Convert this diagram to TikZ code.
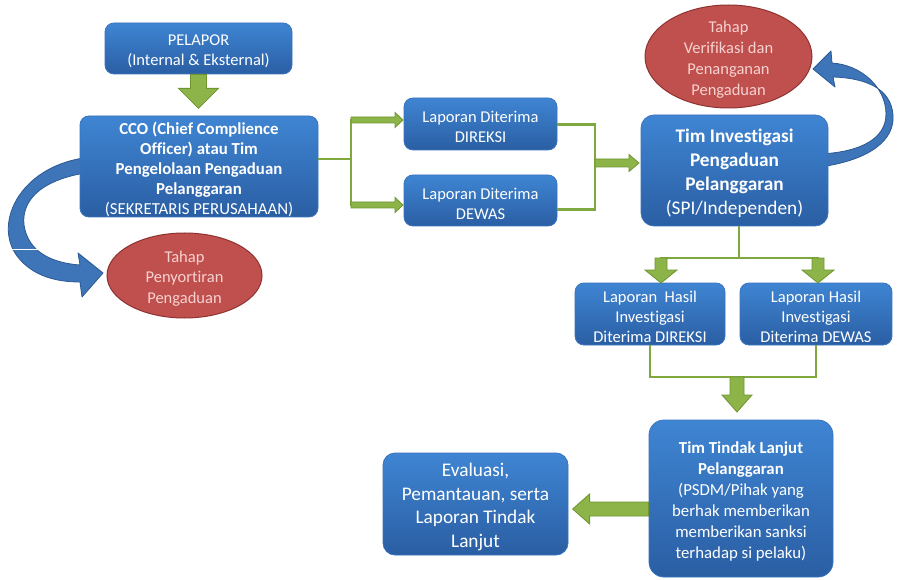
\documentclass[tikz,border=0pt]{standalone}
\usepackage{fontspec}
\setmainfont{Carlito}[Ligatures=CommonOff]
\usetikzlibrary{arrows.meta,calc,shapes.geometric}
\definecolor{bluetop}{HTML}{3F85D3}
\definecolor{bluebot}{HTML}{2A5EA3}
\definecolor{blueedge}{HTML}{3A74BE}
\definecolor{curvefill}{HTML}{3E74B8}
\definecolor{curveedge}{HTML}{2C5A94}
\definecolor{redfill}{HTML}{C0504D}
\definecolor{rededge}{HTML}{8E3331}
\definecolor{redtext}{HTML}{F6D2D1}
\definecolor{gfill}{HTML}{8DB448}
\definecolor{gedge}{HTML}{6F9530}
\definecolor{gline}{HTML}{7FA83E}
\newcommand{\blockarrow}[6]{%
  \draw[garrow, shift={(#1)}, rotate=#2] (0,-#4) -- ({#3-#6},-#4) -- ({#3-#6},-#5) -- (#3,0) -- ({#3-#6},#5) -- ({#3-#6},#4) -- (0,#4) -- cycle;}
\tikzset{
  bbox/.style={rectangle, rounded corners=9pt, top color=bluetop, bottom color=bluebot,
    draw=blueedge, line width=0.8pt, inner sep=0pt},
  rell/.style={ellipse, fill=redfill, draw=rededge, line width=1pt, inner sep=0pt},
  wtxt/.style={text=white, align=center, inner sep=0pt, yshift=-3pt},
  rtxt/.style={text=redtext, align=center, inner sep=0pt, yshift=-3pt},
  garrow/.style={fill=gfill, draw=gedge, line width=0.8pt, line join=miter},
  glinestyle/.style={draw=gline, line width=2.6pt},
  curvearrow/.style={fill=curvefill, draw=curveedge, line width=0.8pt, line join=round},
}
\begin{document}
\begin{tikzpicture}[x=1pt,y=-1pt]
\useasboundingbox (0,0) rectangle (902,580);
\fill[white] (0,0) rectangle (902,580);

% curved blue arrows (drawn first, behind boxes)
\draw[curvearrow] (92,157) .. controls (22,163) and (-8,222) .. (17,256)
  .. controls (33,277) and (58,282) .. (80,282) -- (82,297) -- (103,273) -- (78,253) -- (80,265)
  .. controls (52,263) and (28,252) .. (24,225) .. controls (21,198) and (45,178) .. (92,172) -- cycle;
\draw[curvearrow] (820,167) .. controls (870,160) and (895,140) .. (893,115)
  .. controls (891,88) and (865,78) .. (833,77) -- (835,87) -- (813,69) -- (831,51) -- (832,63)
  .. controls (862,65) and (886,88) .. (886,114) .. controls (886,138) and (862,152) .. (820,154) -- cycle;
\draw[white, line width=0.6pt] (8,249) -- (247,249);

% nodes
\node[bbox, minimum width=187pt, minimum height=51pt,
  label={[wtxt, font=\fontsize{16.5}{20}\selectfont]center:{PELAPOR\\(Internal \& Eksternal)}}] (pel) at (198.5,48.5) {};
\node[bbox, minimum width=238pt, minimum height=101pt,
  label={[wtxt, font=\fontsize{16.8}{20}\selectfont]center:{\bfseries CCO (Chief Complience\\\bfseries Officer) atau Tim\\\bfseries Pengelolaan Pengaduan\\\bfseries Pelanggaran\\(SEKRETARIS PERUSAHAAN)}}] (cco) at (199,166.5) {};
\node[bbox, minimum width=153pt, minimum height=52pt,
  label={[wtxt, font=\fontsize{16.5}{20}\selectfont]center:{Laporan Diterima\\DIREKSI}}] (dir) at (480.5,124) {};
\node[bbox, minimum width=153pt, minimum height=51pt,
  label={[wtxt, font=\fontsize{16.5}{20}\selectfont]center:{Laporan Diterima\\DEWAS}}] (dew) at (480.5,200.5) {};
\node[bbox, rounded corners=13pt, minimum width=187pt, minimum height=111pt,
  label={[wtxt, font=\fontsize{19.3}{24}\selectfont]center:{\bfseries Tim Investigasi\\\bfseries Pengaduan\\\bfseries Pelanggaran\\(SPI/Independen)}}] (tim) at (734.5,170.5) {};
\node[rell, minimum width=167pt, minimum height=103pt,
  label={[rtxt, font=\fontsize{16.5}{21}\selectfont]center:{Tahap\\Verifikasi dan\\Penanganan\\Pengaduan}}] (ver) at (728.5,56.5) {};
\node[rell, minimum width=155pt, minimum height=85pt,
  label={[rtxt, font=\fontsize{16.5}{20.5}\selectfont]center:{Tahap\\Penyortiran\\Pengaduan}}] (sor) at (184.5,275.5) {};
\node[bbox, minimum width=150pt, minimum height=62pt,
  label={[wtxt, font=\fontsize{16.5}{20}\selectfont]center:{Laporan\ \ Hasil\\Investigasi\\Diterima DIREKSI}}] (hd) at (650,314) {};
\node[bbox, minimum width=152pt, minimum height=62pt,
  label={[wtxt, font=\fontsize{16.5}{20}\selectfont]center:{Laporan Hasil\\Investigasi\\Diterima DEWAS}}] (hw) at (816,314) {};
\node[bbox, rounded corners=15pt, minimum width=184pt, minimum height=157pt,
  label={[wtxt, font=\fontsize{16.8}{21}\selectfont]center:{\bfseries Tim Tindak Lanjut\\\bfseries Pelanggaran\\(PSDM/Pihak yang\\berhak memberikan\\memberikan sanksi\\terhadap si pelaku)}}] (tl) at (741,498.5) {};
\node[bbox, rounded corners=12pt, minimum width=185pt, minimum height=102pt,
  label={[wtxt, font=\fontsize{19.3}{23.5}\selectfont]center:{Evaluasi,\\Pemantauan, serta\\Laporan Tindak\\Lanjut}}] (ev) at (475.5,504) {};

% green connectors
\coordinate (j1) at (351,159);
\coordinate (j1t) at (351,120);
\coordinate (j1b) at (351,205);
\draw[glinestyle] (cco.east |- j1) -- (j1);
\draw[glinestyle, line cap=rect] (j1t) -- (j1b);
\blockarrow{j1t}{0}{52}{3}{7.5}{8}
\blockarrow{j1b}{0}{52}{3}{7.5}{8}

\coordinate (j2) at (595,163);
\draw[glinestyle, line join=miter] ($(dir.east)+(0,0.5)$) -| (j2) |- ($(dew.east)+(0,9)$);
\blockarrow{j2}{0}{44}{4}{8.5}{10}

\coordinate (jt) at (739,258);
\coordinate (jl) at (661,258);
\coordinate (jr) at (818,258);
\draw[glinestyle] (tim.south -| jt) -- (jt);
\draw[glinestyle, line cap=rect] (jl) -- (jr);
\blockarrow{jl}{-90}{25}{6}{16}{13}
\blockarrow{jr}{-90}{25}{6}{16}{13}

\coordinate (jb) at (737,377);
\draw[glinestyle, line join=miter] (hd.south) |- (jb) -| (hw.south);
\blockarrow{jb}{-90}{35}{7}{15}{17}

\coordinate (lw) at ($(tl.west)+(0,10.5)$);
\blockarrow{pel.south}{-90}{34}{8}{20}{20}
\blockarrow{lw}{180}{76}{7}{15}{17}
\end{tikzpicture}
\end{document}
